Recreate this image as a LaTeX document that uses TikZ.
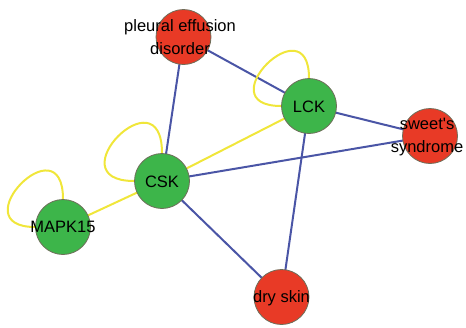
\documentclass[tikz,border=0pt]{standalone}
\usepackage{fontspec}
\setmainfont{Liberation Sans}
\usetikzlibrary{backgrounds}
\definecolor{gene}{HTML}{3DB54A}
\definecolor{disease}{HTML}{E83A26}
\definecolor{rim}{HTML}{6E6E5A}
\definecolor{assoc}{HTML}{4A55A6}
\definecolor{interact}{HTML}{F0E63A}
\begin{document}
\begin{tikzpicture}[x=1pt,y=-1pt,
  vertex/.style={circle,draw=rim,line width=0.8pt,minimum size=55pt,inner sep=0pt},
  genenode/.style={vertex,fill=gene},
  diseasenode/.style={vertex,fill=disease},
  caption/.style={font=\fontsize{16.5}{23}\selectfont,align=center,inner sep=0pt,text=black},
  dlink/.style={draw=assoc,line width=2pt},
  glink/.style={draw=interact,line width=2pt}]
\useasboundingbox (0,0) rectangle (466,327);

% vertices
\node[diseasenode] (ped) at (183.5,37) {};
\node[genenode]    (lck) at (309,106) {};
\node[diseasenode] (sws) at (430,136) {};
\node[genenode]    (csk) at (162,181) {};
\node[genenode]    (mapk) at (63,227) {};
\node[diseasenode] (dry) at (281.5,297) {};

% labels
\node[caption] (pedt) at (180,37.5) {pleural effusion\\disorder};
\node[caption] (lckt) at (309,107) {LCK};
\node[caption] (swst) at (427,137.5) {sweet\textquotesingle s\\syndrome};
\node[caption] (cskt) at (162,182) {CSK};
\node[caption] (mapkt) at (63,227) {MAPK15};
\node[caption] (dryt) at (281.5,298) {dry skin};

\begin{scope}[on background layer]
  % gene--disease associations
  \draw[dlink] (ped.center) -- (csk.center);
  \draw[dlink] (ped.center) -- (lck.center);
  \draw[dlink] (lck.center) -- (sws.center);
  \draw[dlink] (csk.center) -- (sws.center);
  \draw[dlink] (csk.center) -- (dry.center);
  \draw[dlink] (lck.center) -- (dry.center);
  % gene--gene interactions
  \draw[glink] (csk.center) -- (lck.center);
  \draw[glink] (csk.center) -- (mapk.center);
  \draw[glink] (lck.north) .. controls +(0,-75) and +(-75,0) .. (lck.west);
  \draw[glink] (csk.north) .. controls +(0,-82) and +(-80,0) .. (csk.west);
  \draw[glink] (mapk.north) .. controls +(0,-78) and +(-75,0) .. (mapk.west);
\end{scope}
\end{tikzpicture}
\end{document}
